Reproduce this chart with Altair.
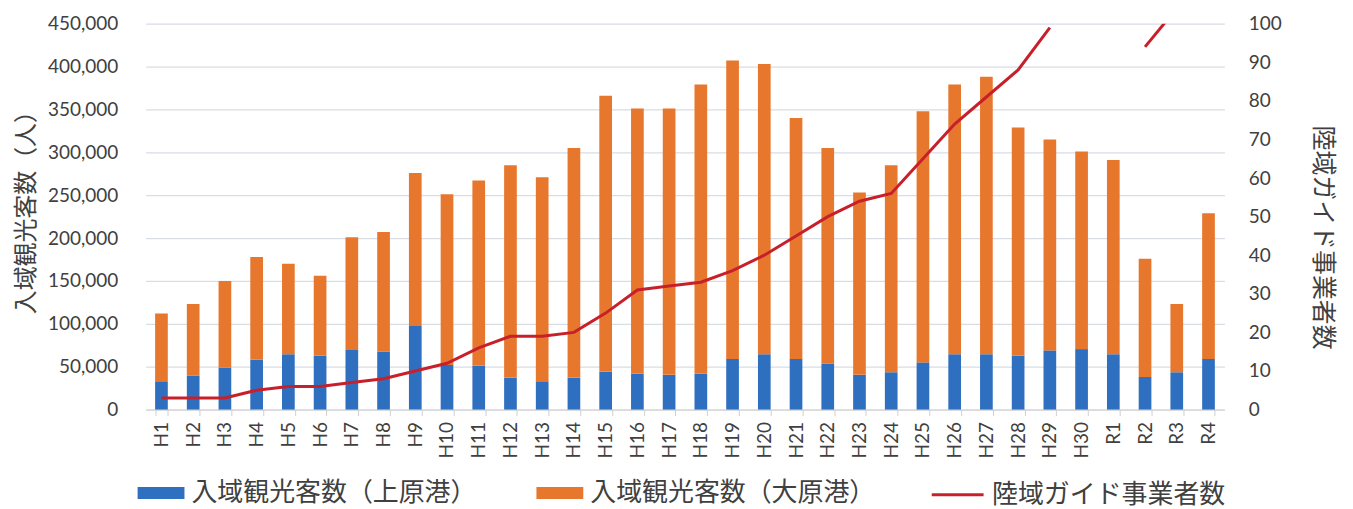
import altair as alt
import pandas as pd

years = ["H1", "H2", "H3", "H4", "H5", "H6", "H7", "H8", "H9", "H10",
         "H11", "H12", "H13", "H14", "H15", "H16", "H17", "H18", "H19", "H20",
         "H21", "H22", "H23", "H24", "H25", "H26", "H27", "H28", "H29", "H30",
         "R1", "R2", "R3", "R4"]

# 入域観光客数（上原港）
uehara = [33000, 39500, 49000, 58000, 64500, 63000, 69500, 67500, 97500, 52000,
          51000, 37000, 33000, 37000, 44000, 42000, 40500, 42000, 59000, 64500,
          59000, 53500, 40500, 43500, 55000, 64500, 64500, 63000, 69000, 70500,
          64500, 38000, 43500, 59000]

# 入域観光客数（大原港）
ohara = [79000, 83500, 101000, 120000, 105500, 93000, 131500, 139500, 178500, 199000,
         216000, 248000, 238000, 268000, 322000, 309000, 310500, 337000, 348000, 338500,
         281000, 251500, 212500, 241500, 293000, 314500, 323500, 266000, 246000, 230500,
         226500, 138000, 79500, 170000]

# 陸域ガイド事業者数 (None = not plotted)
guides = [3, 3, 3, 5, 6, 6, 7, 8, 10, 12,
          16, 19, 19, 20, 25, 31, 32, 33, 36, 40,
          45, 50, 54, 56, 65, 74, 81, 88, 99, None,
          None, 94, 104, None]

L1 = "入域観光客数（上原港）"
L2 = "入域観光客数（大原港）"
L3 = "陸域ガイド事業者数"

BLUE = "#2F6FBF"
ORANGE = "#E8772E"
RED = "#C8202B"
TXT = "#404040"
GRID = "#D8DDE4"
NUM_FONT = "Lato"
JP_FONT = "Noto Sans CJK JP"

n = len(years)
bars_df = pd.DataFrame({
    "year": years * 2,
    "port": [L1] * n + [L2] * n,
    "visitors": uehara + ohara,
    "order": [0] * n + [1] * n,
})

rows = []
seg = 0
prev_none = True
for y, g in zip(years, guides):
    if g is None:
        prev_none = True
        continue
    if prev_none:
        seg += 1
        prev_none = False
    rows.append({"year": y, "guides": g, "segment": seg, "series": L3})
line_df = pd.DataFrame(rows)

x_enc = alt.X(
    "year:N", sort=years,
    scale=alt.Scale(paddingInner=0.6, paddingOuter=0.3),
    axis=alt.Axis(
        title=None, labelAngle=270, labelFont=NUM_FONT, labelFontSize=19,
        labelColor=TXT, tickBand="extent", tickSize=6, tickColor="#D0D0D0",
        domainColor="#D0D0D0", labelPadding=6, grid=False,
    ),
)

rect_path = "M-1,-0.255L1,-0.255L1,0.255L-1,0.255Z"

bars = alt.Chart(bars_df).mark_bar().encode(
    x=x_enc,
    y=alt.Y(
        "visitors:Q", stack="zero",
        scale=alt.Scale(domain=[0, 450000], nice=False),
        axis=alt.Axis(
            values=list(range(0, 450001, 50000)), format=",.0f",
            title="入域観光客数（人）", titleFont=JP_FONT, titleFontSize=24,
            titleFontWeight="normal", titleColor=TXT, titleAngle=270,
            titleX=-119, titleY=183, titleAlign="center", titleBaseline="middle",
            labelFont=NUM_FONT, labelFontSize=19, labelColor=TXT,
            labelPadding=28, ticks=False, domain=False,
            gridColor=GRID, gridWidth=1.3,
        ),
    ),
    color=alt.Color(
        "port:N",
        scale=alt.Scale(domain=[L1, L2], range=[BLUE, ORANGE]),
        legend=alt.Legend(
            orient="none", legendX=-8, legendY=447, direction="horizontal",
            title=None, symbolType=rect_path, symbolSize=2209,
            symbolStrokeWidth=0, labelFont=JP_FONT, labelFontSize=26,
            labelColor=TXT, labelOffset=7, columnPadding=59, padding=0,
            labelLimit=500,
        ),
    ),
    order=alt.Order("order:Q"),
)

line = alt.Chart(line_df).mark_line(strokeWidth=3, clip=True).encode(
    x=x_enc,
    y=alt.Y(
        "guides:Q",
        scale=alt.Scale(domain=[0, 100], nice=False),
        axis=alt.Axis(
            orient="right", values=list(range(0, 101, 10)),
            title=L3, titleFont=JP_FONT, titleFontSize=25,
            titleFontWeight="normal", titleColor=TXT, titleAngle=90,
            titleX=98, titleY=214, titleAlign="center", titleBaseline="middle",
            labelFont=NUM_FONT, labelFontSize=19, labelColor=TXT,
            labelPadding=24, ticks=False, domain=False, grid=False,
        ),
    ),
    detail="segment:N",
    stroke=alt.Stroke(
        "series:N",
        scale=alt.Scale(domain=[L3], range=[RED]),
        legend=alt.Legend(
            orient="none", legendX=787, legendY=445, direction="horizontal",
            title=None, symbolType="stroke", symbolSize=2704,
            symbolStrokeWidth=3, labelFont=JP_FONT, labelFontSize=26,
            labelColor=TXT, labelOffset=7, padding=0, labelLimit=500,
        ),
    ),
)

chart = alt.layer(bars, line).resolve_scale(y="independent").properties(
    width=1082, height=387,
    padding={"left": 138, "top": 15, "right": 121, "bottom": 99},
    autosize=alt.AutoSizeParams(type="none"),
    background="white",
).configure_view(stroke=None)

chart.save("out.html", embed_options={"renderer": "svg", "actions": False})
